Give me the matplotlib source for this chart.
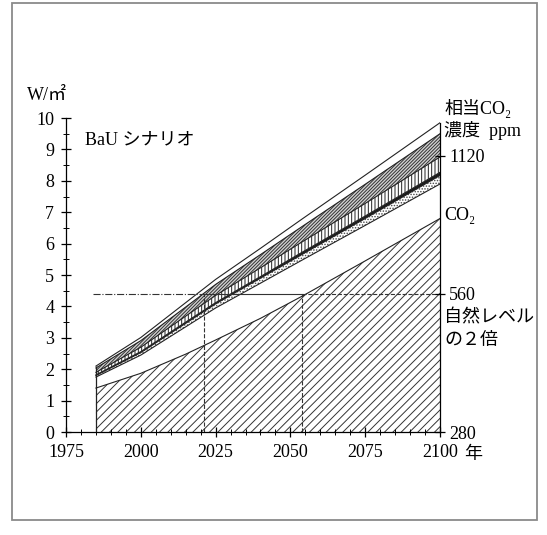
import matplotlib.pyplot as plt
import matplotlib.patches as patches
from matplotlib.ticker import MultipleLocator

plt.rcParams['font.family'] = ['Liberation Serif', 'Noto Sans CJK JP']
plt.rcParams['hatch.linewidth'] = 0.7

# 放射強制力 (W/m2) の累積ライン
years = [1985, 2000, 2015, 2025, 2040, 2054, 2075, 2100]
co2 = [1.40, 1.87, 2.48, 2.93, 3.62, 4.33, 5.45, 6.80]
base = [1.75, 2.45, 3.35, 3.95, 4.74, 5.48, 6.58, 7.90]
dot_top = [1.80, 2.53, 3.46, 4.08, 4.90, 5.66, 6.80, 8.17]
dark_top = [1.82, 2.56, 3.50, 4.12, 4.95, 5.73, 6.88, 8.27]
vert_top = [1.90, 2.70, 3.69, 4.35, 5.23, 6.06, 7.28, 8.76]
hatch_top = [2.04, 2.91, 3.98, 4.70, 5.65, 6.55, 7.89, 9.50]
top = [2.10, 3.01, 4.12, 4.86, 5.85, 6.79, 8.18, 9.85]

double_level = 4.4
double_years = [2021, 2054]
ppm_ticks = [0, 4.4, 8.8]
ppm_labels = ["280", "560", "1120"]

fig = plt.figure(figsize=(5.47, 5.35), dpi=100)
ax = fig.add_axes([0.1207, 0.1925, 0.6837, 0.5869])

# 外枠
fig.patches.append(patches.Rectangle((0.022, 0.028), 0.960, 0.966, transform=fig.transFigure,
                                     fill=False, edgecolor="#8a8a8a", linewidth=1.3))

# 塗り分け
ax.fill_between(years, 0, co2, facecolor="white", edgecolor="#333333", hatch="////", linewidth=0)
ax.fill_between(years, base, dot_top, facecolor="white", edgecolor="#444444", hatch="......", linewidth=0)
ax.fill_between(years, dot_top, dark_top, facecolor="#1a1a1a", linewidth=0)
ax.fill_between(years, dark_top, vert_top, facecolor="white", edgecolor="#222222", hatch="|||||", linewidth=0)
ax.fill_between(years, vert_top, hatch_top, facecolor="#d0d0d0", edgecolor="#333333", hatch="//////////", linewidth=0)

for line in [co2, base, dot_top, dark_top, vert_top, hatch_top, top]:
    ax.plot(years, line, color="#222222", linewidth=0.8)
ax.vlines(years[0], 0, top[0], color="#222222", linewidth=0.9)

# 自然レベルの2倍
ax.plot([1984, double_years[0]], [double_level, double_level], color="#333333", linewidth=0.8, linestyle="-.")
ax.plot(double_years, [double_level, double_level], color="#333333", linewidth=0.8)
ax.plot([double_years[1], 2100], [double_level, double_level], color="#333333", linewidth=0.8, linestyle="--")
for yr in double_years:
    ax.vlines(yr, 0, double_level, color="#333333", linewidth=0.8, linestyles="--")

# 軸設定
ax.set_xlim(1975, 2100)
ax.set_ylim(0, 10)
ax.set_xticks([1975, 2000, 2025, 2050, 2075, 2100])
ax.set_yticks(range(0, 11))
ax.xaxis.set_minor_locator(MultipleLocator(5))
ax.yaxis.set_minor_locator(MultipleLocator(0.5))
ax.tick_params(axis="both", which="major", direction="inout", length=7, width=0.9, labelsize=13, pad=5)
ax.tick_params(axis="both", which="minor", direction="inout", length=4, width=0.7)
for s in ["top", "right"]:
    ax.spines[s].set_visible(False)
ax.spines["left"].set_linewidth(0.9)
ax.spines["bottom"].set_linewidth(0.9)

ax2 = ax.twinx()
ax2.set_ylim(0, 10)
ax2.set_yticks(ppm_ticks)
ax2.set_yticklabels(ppm_labels)
ax2.tick_params(axis="y", direction="inout", length=7, width=0.9, labelsize=13, pad=3)
for s in ["top", "left", "bottom"]:
    ax2.spines[s].set_visible(False)
ax2.spines["right"].set_bounds(0, top[-1])
ax2.spines["right"].set_linewidth(0.9)

# ラベル
ax.text(1962, 10.45, "W/㎡", fontsize=13, va="bottom", clip_on=False)
ax.text(1981.5, 9.3, "BaU シナリオ", fontsize=13, va="center")
ax.text(2101.5, 10.3, "相当CO₂", fontsize=13, va="center", clip_on=False)
ax.text(2101.5, 9.6, "濃度  ppm", fontsize=13, va="center", clip_on=False)
ax.text(2101.5, 6.9, "CO₂", fontsize=13, va="center", clip_on=False)
ax.text(2101.5, 3.63, "自然レベル", fontsize=13, va="center", clip_on=False)
ax.text(2101.5, 2.93, "の２倍", fontsize=13, va="center", clip_on=False)
ax.text(2108, -0.73, "年", fontsize=13, va="center", clip_on=False)

fig.savefig("out.png", dpi=100)
